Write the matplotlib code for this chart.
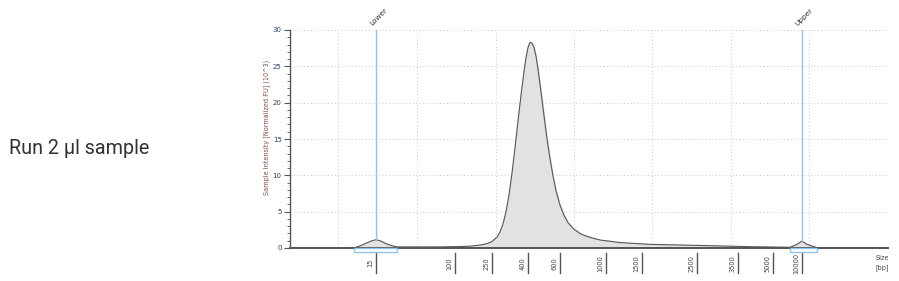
import matplotlib
matplotlib.use("Agg")
import matplotlib.pyplot as plt
from matplotlib.patches import Rectangle
import numpy as np

# ---- data (x = migration position, arbitrary units) ----
trace_pos = [0, 64, 70, 76, 81, 86, 91, 96, 101, 107, 150, 170, 180, 190, 197, 202, 207,
             210, 213, 216, 219, 222, 225, 228, 231, 234, 236, 238, 240, 242, 244, 246, 248,
             251, 254, 257, 260, 263, 266, 270, 274, 278, 283, 290, 295, 303, 310, 330, 360,
             410, 460, 490, 500, 507, 512, 517, 527, 560, 598]
trace_fu = [0, 0, 0.3, 0.65, 0.95, 1.15, 0.95, 0.6, 0.35, 0.15, 0.15, 0.2, 0.25, 0.4, 0.6, 0.9, 1.5,
            2.2, 3.3, 5.0, 7.3, 10.3, 13.8, 17.5, 21.0, 24.3, 26.2, 27.6, 28.3, 28.2, 27.6, 26.4, 24.6,
            21.5, 18.2, 15.0, 12.3, 9.9, 7.9, 5.9, 4.5, 3.5, 2.7, 2.0, 1.7, 1.35, 1.1, 0.75, 0.5,
            0.35, 0.18, 0.12, 0.1, 0.5, 0.95, 0.5, 0.05, 0.05, 0.05]

ladder_sizes = ["15", "100", "250", "400", "600", "1000", "1500", "2500", "3500", "5000", "10000"]
ladder_pos = [86, 165, 202, 238, 270, 316, 352, 407, 448, 483, 512]

markers = ["Lower", "Upper"]
marker_pos = [86, 512]
marker_height = [1.15, 0.95]
marker_range = [(64, 107), (500, 527)]

grid_x = [48, 127, 206, 284, 362, 441, 519, 598]
y_ticks = [0, 5, 10, 15, 20, 25, 30]

# ---- figure ----
fig = plt.figure(figsize=(8.99, 2.81), dpi=100)
fig.text(9 / 899, 1 - 148 / 281, "Run 2 µl sample", fontsize=14.2, family="Roboto",
         color="#333333", va="center", ha="left")

ax = fig.add_axes([290 / 899, 1 - 248 / 281, (888 - 290) / 899, (248 - 30) / 281])
ax.set_xlim(0, 598)
ax.set_ylim(0, 30)

ax.fill_between(trace_pos, trace_fu, 0, color="#e2e2e2", zorder=2)
ax.plot(trace_pos, trace_fu, color="#555555", lw=0.8, zorder=3)

# grid
ax.set_xticks(grid_x)
ax.set_xticklabels([])
ax.tick_params(axis="x", length=0)
ax.set_yticks(y_ticks)
ax.set_yticks(np.arange(0, 31, 1), minor=True)
ax.grid(True, which="major", linestyle=(0, (1, 2.5)), color="#c8c8c8", lw=0.7, zorder=0)
ax.tick_params(axis="y", which="major", length=4, width=0.8, color="#555555",
               labelsize=5, labelcolor="#27406e", pad=2)
ax.tick_params(axis="y", which="minor", length=2, width=0.6, color="#555555")

for s in ["top", "right"]:
    ax.spines[s].set_visible(False)
ax.spines["left"].set_color("#555555")
ax.spines["left"].set_linewidth(1.0)
ax.spines["bottom"].set_color("#555555")
ax.spines["bottom"].set_linewidth(1.4)
ax.spines["bottom"].set_zorder(4)

ax.set_ylabel("Sample Intensity [Normalized FU] (10^3)", fontsize=4.7, color="#8a4b3c", labelpad=10)
ax.yaxis.set_label_coords(-0.034, 0.555)

# ladder ticks below axis
xt = ax.get_xaxis_transform()
for p, lab in zip(ladder_pos, ladder_sizes):
    ax.plot([p, p], [-0.023, -0.115], transform=xt, color="#555555", lw=1.0, clip_on=False)
    ax.text(p - 2.5, -0.07, lab, transform=xt, rotation=90, fontsize=4.8, color="#444444",
            ha="right", va="center", clip_on=False)

# markers
for name, p, h, (a, b) in zip(markers, marker_pos, marker_height, marker_range):
    ax.plot([p, p], [h, 30], color="#8cc4ec", lw=1.0, zorder=5)
    ax.add_patch(Rectangle((a, -0.6), b - a, 0.6, fill=False, edgecolor="#8cc4ec",
                           lw=1.0, clip_on=False, zorder=5))
    ax.text(p - 3.5, 30.4, name, rotation=45, rotation_mode="anchor", fontsize=5.3,
            color="#333333", ha="left", va="bottom", clip_on=False)

ax.text(586, -0.03, "Size", transform=xt, fontsize=4.7, color="#444444", ha="left", va="top")
ax.text(586, -0.075, "[bp]", transform=xt, fontsize=4.7, color="#444444", ha="left", va="top")

fig.savefig("out.png", dpi=100)
